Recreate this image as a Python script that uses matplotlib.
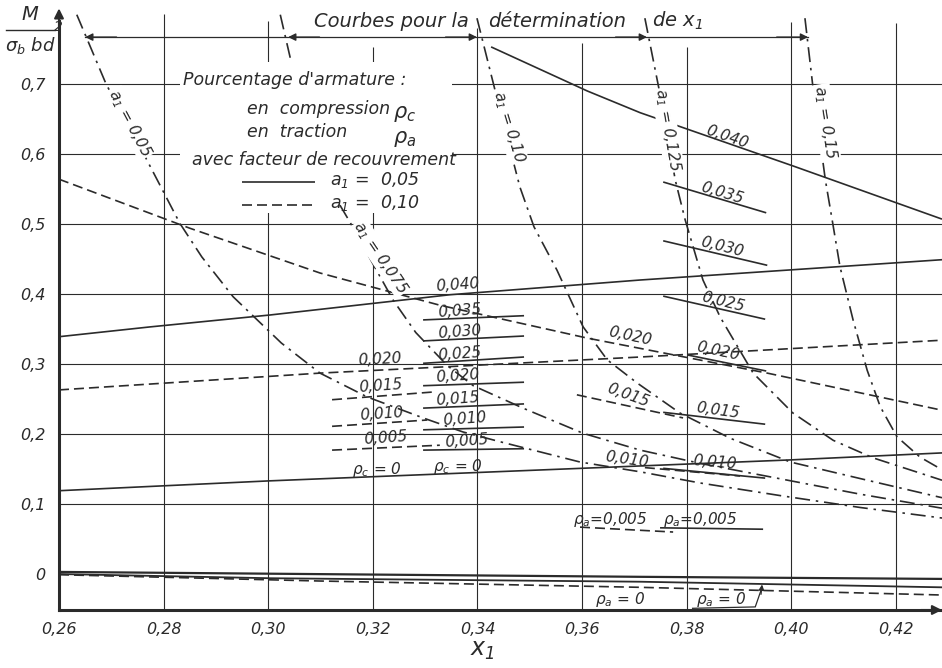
import matplotlib.pyplot as plt
from matplotlib.patches import Rectangle

INK = "#2b2b2b"

# axes and grid
X_TICKS = [0.26, 0.28, 0.30, 0.32, 0.34, 0.36, 0.38, 0.40, 0.42]
X_TICK_LABELS = ["0,26", "0,28", "0,30", "0,32", "0,34", "0,36", "0,38", "0,40", "0,42"]
Y_TICKS = [0.0, 0.1, 0.2, 0.3, 0.4, 0.5, 0.6, 0.7]
Y_TICK_LABELS = ["0", "0,1", "0,2", "0,3", "0,4", "0,5", "0,6", "0,7"]
GRID_X_TOP = [0.800, 0.790, 0.753, 0.780, 0.759, 0.753, 0.789, 0.787]

# curves a1 (dash-dot)
A1_005_X = [0.2634, 0.2690, 0.2762, 0.2831, 0.2873, 0.2933, 0.3025, 0.3099, 0.3189, 0.3296,
            0.3372, 0.3443, 0.3596, 0.3711, 0.3826, 0.3979, 0.4132, 0.4288]
A1_005_Y = [0.799, 0.700, 0.600, 0.501, 0.453, 0.396, 0.330, 0.287, 0.253, 0.223,
            0.203, 0.189, 0.160, 0.146, 0.130, 0.112, 0.095, 0.080]
A1_0075_TOP_X = [0.3023, 0.3044]
A1_0075_TOP_Y = [0.799, 0.731]
A1_0075_X = [0.3137, 0.3156, 0.3198, 0.3239, 0.3282, 0.3342, 0.3392, 0.3487, 0.3602, 0.3711,
             0.3826, 0.3979, 0.4132, 0.4288]
A1_0075_Y = [0.527, 0.503, 0.446, 0.391, 0.345, 0.298, 0.269, 0.237, 0.201, 0.177,
             0.158, 0.136, 0.114, 0.094]
A1_010_X = [0.3399, 0.3443, 0.3481, 0.3508, 0.3552, 0.3602, 0.3648, 0.3705, 0.3787, 0.3883,
            0.3998, 0.4145, 0.4288]
A1_010_Y = [0.794, 0.663, 0.553, 0.496, 0.434, 0.353, 0.306, 0.273, 0.230, 0.194,
            0.160, 0.134, 0.109]
A1_0125_X = [0.3720, 0.3755, 0.3778, 0.3797, 0.3831, 0.3864, 0.3927, 0.4003, 0.4080, 0.4156, 0.4288]
A1_0125_Y = [0.794, 0.663, 0.563, 0.506, 0.420, 0.367, 0.287, 0.230, 0.191, 0.166, 0.134]
A1_015_X = [0.4026, 0.4042, 0.4065, 0.4078, 0.4093, 0.4118, 0.4145, 0.4170, 0.4202, 0.4246, 0.4288]
A1_015_Y = [0.794, 0.691, 0.563, 0.506, 0.439, 0.363, 0.291, 0.239, 0.196, 0.167, 0.149]
A1_LABELS = ["0,05", "0,075", "0,10", "0,125", "0,15"]
A1_LABEL_X = [0.2736, 0.3215, 0.3459, 0.3764, 0.4065]
A1_LABEL_Y = [0.644, 0.452, 0.639, 0.634, 0.646]
A1_LABEL_ROT = [-62, -56, -73, -80, -81]

# rho_c, a1 = 0.05 (solid, rising)
RC040_X = [0.26, 0.2774, 0.3003, 0.3348, 0.3711, 0.4288]
RC040_Y = [0.339, 0.353, 0.370, 0.399, 0.420, 0.449]
RC0_X = [0.26, 0.3000, 0.3998, 0.4288]
RC0_Y = [0.119, 0.133, 0.163, 0.173]
RC_SOLID_LABELS = ["0,035", "0,030", "0,025", "0,020", "0,015", "0,010", "0,005"]
RC_SOLID_Y0 = [0.363, 0.333, 0.301, 0.269, 0.237, 0.206, 0.177]
RC_SOLID_Y1 = [0.369, 0.340, 0.310, 0.274, 0.243, 0.210, 0.179]
RC_SOLID_X = [0.3296, 0.3489]
RC_SOLID_LBL_X = [0.3365, 0.3365, 0.3365, 0.3363, 0.3363, 0.3375, 0.3380]
RC_SOLID_LBL_Y = [0.376, 0.346, 0.314, 0.283, 0.250, 0.221, 0.190]

# rho_c, a1 = 0.10 (dashed, rising)
RC020_D_X = [0.26, 0.3099, 0.3711, 0.4288]
RC020_D_Y = [0.263, 0.287, 0.310, 0.334]
RC_DASH_LABELS = ["0,015", "0,010", "0,005"]
RC_DASH_X0 = [0.3122, 0.3122, 0.3122]
RC_DASH_X1 = [0.3315, 0.3304, 0.3328]
RC_DASH_Y0 = [0.249, 0.211, 0.177]
RC_DASH_Y1 = [0.260, 0.220, 0.184]
RC_DASH_LBL_X = [0.3214, 0.3216, 0.3225]
RC_DASH_LBL_Y = [0.269, 0.229, 0.194]

# rho_a, a1 = 0.05 (solid, falling)
RA040_X = [0.3426, 0.3610, 0.3711, 0.4003, 0.4288]
RA040_Y = [0.753, 0.690, 0.659, 0.583, 0.507]
RA_SOLID_LABELS = ["0,035", "0,030", "0,025", "0,020", "0,015", "0,010"]
RA_SOLID_X0 = [0.3755, 0.3755, 0.3755, 0.3801, 0.3755, 0.3755]
RA_SOLID_X1 = [0.3952, 0.3954, 0.3950, 0.3952, 0.3950, 0.3950]
RA_SOLID_Y0 = [0.560, 0.476, 0.397, 0.313, 0.231, 0.151]
RA_SOLID_Y1 = [0.516, 0.441, 0.364, 0.290, 0.214, 0.137]
RA_SOLID_LBL_X = [0.3868, 0.3868, 0.3870, 0.3860, 0.3860, 0.3853]
RA_SOLID_LBL_Y = [0.544, 0.467, 0.389, 0.318, 0.234, 0.160]
RA_SOLID_LBL_ROT = [-17, -14, -14, -12, -8, -5]
RA005_X = [0.3749, 0.3946]
RA005_Y = [0.066, 0.064]
RA0_A_X = [0.26, 0.3711, 0.4288]
RA0_A_Y = [0.003, -0.004, -0.007]
RA0_B_X = [0.26, 0.3003, 0.3711, 0.4288]
RA0_B_Y = [0.000, -0.006, -0.011, -0.019]

# rho_a, a1 = 0.10 (dashed, falling)
RA020_D_X = [0.26, 0.2850, 0.3099, 0.3328, 0.3610, 0.3954, 0.4288]
RA020_D_Y = [0.564, 0.494, 0.430, 0.384, 0.337, 0.287, 0.234]
RA_DASH_LABELS = ["0,015", "0,010"]
RA_DASH_X0 = [0.3590, 0.3720]
RA_DASH_X1 = [0.3793, 0.3902]
RA_DASH_Y0 = [0.256, 0.152]
RA_DASH_Y1 = [0.223, 0.140]
RA_DASH_LBL_X = [0.3688, 0.3686]
RA_DASH_LBL_Y = [0.255, 0.163]
RA_DASH_LBL_ROT = [-20, -8]
RA005_D_X = [0.3596, 0.3774]
RA005_D_Y = [0.067, 0.060]
RA0_D_X = [0.26, 0.3099, 0.3711, 0.4288]
RA0_D_Y = [-0.001, -0.010, -0.019, -0.030]
BRACKET_X = [0.3810, 0.3931, 0.3944]
BRACKET_Y = [-0.049, -0.047, -0.019]

XMIN, XMAX = 0.26, 0.4288
YMIN, YMAX = -0.0514, 0.82

DASHDOT = (9, 3.5, 1.5, 3.5)
DASHED = (6, 3)


def line(ax, x, y, kind="solid", lw=1.2, **kw):
    if kind == "solid":
        return ax.plot(x, y, color=INK, lw=lw, solid_capstyle="butt",
                       solid_joinstyle="round", zorder=3, **kw)
    dashes = DASHDOT if kind == "dashdot" else DASHED
    return ax.plot(x, y, color=INK, lw=lw, dashes=dashes, zorder=3, **kw)


def label(ax, x, y, s, size=11, rot=0, **kw):
    ax.text(x, y, s, fontsize=size, rotation=rot, rotation_mode="anchor",
            ha="center", va="center", color=INK, zorder=5, **kw)


def arrowhead(ax, x, y, dx):
    ax.annotate("", xy=(x, y), xytext=(x + dx, y),
                arrowprops=dict(arrowstyle="-|>", color=INK, lw=1.0,
                                mutation_scale=11, shrinkA=0, shrinkB=0),
                zorder=4)


def main():
    plt.rcParams.update({
        "font.family": "DejaVu Sans",
        "font.style": "italic",
        "mathtext.fontset": "dejavusans",
        "mathtext.default": "it",
    })
    fig = plt.figure(figsize=(9.42, 6.68), dpi=100)
    fig.patch.set_facecolor("white")
    ax = fig.add_axes([59 / 942, 58 / 668, 883 / 942, 610 / 668])
    ax.set_xlim(XMIN, XMAX)
    ax.set_ylim(YMIN, YMAX)
    for s in ax.spines.values():
        s.set_visible(False)

    # grid, blanked behind the legend block
    ax.hlines(Y_TICKS[1:], XMIN, XMAX, color=INK, lw=0.8, zorder=1)
    ax.vlines(X_TICKS[1:], YMIN, GRID_X_TOP, color=INK, lw=0.8, zorder=1)
    ax.add_patch(Rectangle((0.2831, 0.516), 0.3352 - 0.2831, 0.731 - 0.516,
                           facecolor="white", edgecolor="none", zorder=1.5))

    # axes with arrows
    ax.plot([XMIN, XMIN], [YMIN, 0.79], color=INK, lw=2.2, clip_on=False, zorder=4)
    ax.annotate("", xy=(XMIN, 0.808), xytext=(XMIN, 0.78),
                arrowprops=dict(arrowstyle="-|>", color=INK, lw=1.5,
                                mutation_scale=14, shrinkA=0, shrinkB=0))
    ax.plot([XMIN, XMAX], [YMIN, YMIN], color=INK, lw=2.2, clip_on=False, zorder=4)
    ax.annotate("", xy=(XMAX, YMIN), xytext=(XMAX - 0.004, YMIN),
                arrowprops=dict(arrowstyle="-|>", color=INK, lw=1.5,
                                mutation_scale=14, shrinkA=0, shrinkB=0),
                annotation_clip=False)

    ax.set_xticks(X_TICKS, X_TICK_LABELS)
    ax.set_yticks(Y_TICKS, Y_TICK_LABELS)
    ax.tick_params(length=0, labelsize=11.5, colors=INK)
    ax.tick_params(axis="x", pad=9)
    ax.tick_params(axis="y", pad=10)

    # a1 curves
    for xs, ys in [(A1_005_X, A1_005_Y), (A1_0075_TOP_X, A1_0075_TOP_Y),
                   (A1_0075_X, A1_0075_Y), (A1_010_X, A1_010_Y),
                   (A1_0125_X, A1_0125_Y), (A1_015_X, A1_015_Y)]:
        line(ax, xs, ys, "dashdot")
    for s, x, y, r in zip(A1_LABELS, A1_LABEL_X, A1_LABEL_Y, A1_LABEL_ROT):
        label(ax, x, y, "a$_1$ = " + s, size=11, rot=r,
              bbox=dict(facecolor="white", edgecolor="none", pad=0.5))

    # rho_c, a1 = 0.05
    line(ax, RC040_X, RC040_Y)
    line(ax, RC0_X, RC0_Y)
    label(ax, 0.3363, 0.413, "0,040", rot=4)
    for s, y0, y1, lx, ly in zip(RC_SOLID_LABELS, RC_SOLID_Y0, RC_SOLID_Y1,
                                 RC_SOLID_LBL_X, RC_SOLID_LBL_Y):
        line(ax, RC_SOLID_X, [y0, y1])
        label(ax, lx, ly, s, rot=4)
    label(ax, 0.3208, 0.150, "ρ$_c$ = 0")
    label(ax, 0.3363, 0.154, "ρ$_c$ = 0")

    # rho_c, a1 = 0.10
    line(ax, RC020_D_X, RC020_D_Y, "dashed")
    label(ax, 0.3214, 0.306, "0,020", rot=3)
    for s, x0, x1, y0, y1, lx, ly in zip(RC_DASH_LABELS, RC_DASH_X0, RC_DASH_X1,
                                         RC_DASH_Y0, RC_DASH_Y1,
                                         RC_DASH_LBL_X, RC_DASH_LBL_Y):
        line(ax, [x0, x1], [y0, y1], "dashed")
        label(ax, lx, ly, s, rot=4)

    # rho_a, a1 = 0.05
    line(ax, RA040_X, RA040_Y)
    label(ax, 0.3877, 0.624, "0,040", rot=-19)
    for s, x0, x1, y0, y1, lx, ly, r in zip(RA_SOLID_LABELS, RA_SOLID_X0, RA_SOLID_X1,
                                            RA_SOLID_Y0, RA_SOLID_Y1, RA_SOLID_LBL_X,
                                            RA_SOLID_LBL_Y, RA_SOLID_LBL_ROT):
        line(ax, [x0, x1], [y0, y1])
        label(ax, lx, ly, s, rot=r)
    line(ax, RA005_X, RA005_Y)
    label(ax, 0.3826, 0.078, "ρ$_a$=0,005")
    line(ax, RA0_A_X, RA0_A_Y, lw=1.6)
    line(ax, RA0_B_X, RA0_B_Y, lw=1.3)

    # rho_a, a1 = 0.10
    line(ax, RA020_D_X, RA020_D_Y, "dashed")
    label(ax, 0.3692, 0.340, "0,020", rot=-12)
    for s, x0, x1, y0, y1, lx, ly, r in zip(RA_DASH_LABELS, RA_DASH_X0, RA_DASH_X1,
                                            RA_DASH_Y0, RA_DASH_Y1, RA_DASH_LBL_X,
                                            RA_DASH_LBL_Y, RA_DASH_LBL_ROT):
        line(ax, [x0, x1], [y0, y1], "dashed")
        label(ax, lx, ly, s, rot=r)
    line(ax, RA005_D_X, RA005_D_Y, "dashed")
    label(ax, 0.3654, 0.078, "ρ$_a$=0,005")
    line(ax, RA0_D_X, RA0_D_Y, "dashed")
    label(ax, 0.3673, -0.037, "ρ$_a$ = 0")
    label(ax, 0.3866, -0.036, "ρ$_a$ = 0")
    line(ax, BRACKET_X, BRACKET_Y, lw=0.9)
    ax.annotate("", xy=(BRACKET_X[2], BRACKET_Y[2] + 0.004),
                xytext=(BRACKET_X[2] - 0.0002, BRACKET_Y[2] - 0.01),
                arrowprops=dict(arrowstyle="-|>", color=INK, lw=0.9,
                                mutation_scale=8, shrinkA=0, shrinkB=0))

    # dimension line on top
    ax.plot([0.2650, 0.4032], [0.767, 0.767], color=INK, lw=0.9, zorder=3)
    arrowhead(ax, 0.2650, 0.767, 0.006)
    arrowhead(ax, 0.3038, 0.767, 0.006)
    arrowhead(ax, 0.3399, 0.767, -0.006)
    arrowhead(ax, 0.3724, 0.767, -0.006)
    arrowhead(ax, 0.4032, 0.767, -0.006)
    label(ax, 0.3235, 0.790, "Courbes pour la", size=14)
    label(ax, 0.3552, 0.790, "détermination", size=14)
    label(ax, 0.3782, 0.790, "de x$_1$", size=14)

    # legend block
    lg = dict(fontsize=12.5, color=INK, va="center", ha="left", zorder=5)
    ax.text(0.2837, 0.706, "Pourcentage d'armature :", **lg)
    ax.text(0.2959, 0.664, "en  compression", **lg)
    ax.text(0.2959, 0.631, "en  traction", **lg)
    ax.text(0.3238, 0.657, "ρ$_c$", fontsize=15, color=INK, va="center", ha="left")
    ax.text(0.3238, 0.622, "ρ$_a$", fontsize=15, color=INK, va="center", ha="left")
    ax.text(0.2854, 0.592, "avec facteur de recouvrement", **lg)
    line(ax, [0.2950, 0.3090], [0.560, 0.560])
    line(ax, [0.2950, 0.3090], [0.527, 0.527], "dashed")
    ax.text(0.3118, 0.563, "a$_1$ =  0,05", **lg)
    ax.text(0.3118, 0.530, "a$_1$ =  0,10", **lg)

    # y label as a fraction, x label
    fig.text(30 / 942, 1 - 15 / 668, "M", fontsize=14, color=INK, ha="center", va="center")
    fig.add_artist(plt.Line2D([6 / 942, 55 / 942], [1 - 30 / 668, 1 - 30 / 668],
                              color=INK, lw=1.0))
    fig.text(30 / 942, 1 - 45 / 668, "σ$_b$ bd", fontsize=13, color=INK,
             ha="center", va="center")
    fig.text(58 / 942, 1 - 27 / 668, "2", fontsize=10, color=INK, ha="center", va="center")
    fig.text(482 / 942, 1 - 650 / 668, "x$_1$", fontsize=17, color=INK,
             ha="center", va="center")

    fig.savefig("out.png", dpi=100, facecolor="white")
    plt.close(fig)


if __name__ == "__main__":
    main()
